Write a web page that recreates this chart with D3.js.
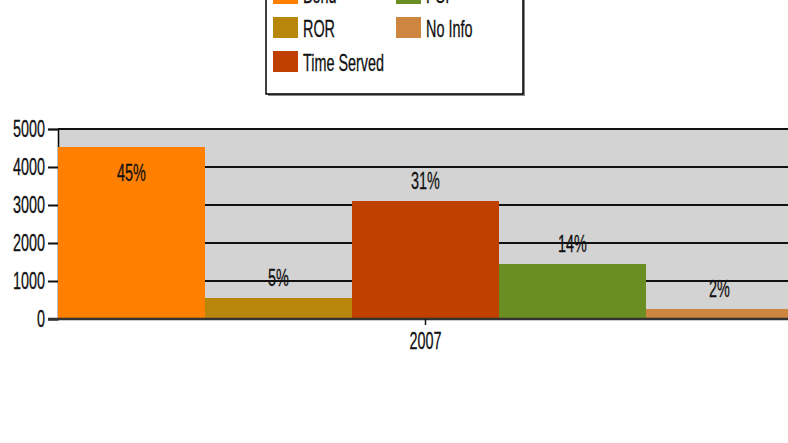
<!DOCTYPE html>
<html>
<head>
<meta charset="utf-8">
<script src="https://cdn.jsdelivr.net/npm/d3@7"></script>
<style>
  html, body { margin: 0; padding: 0; background: #fff; overflow: hidden; }
  svg { display: block; }
  text { font-family: "Liberation Sans", Arial, sans-serif; fill: #111; stroke: #111; stroke-width: 0.3px; }
</style>
</head>
<body>
<div id="chart"></div>
<script>
// data
const years = ["2007"];
const series = ["Bond", "ROR", "Time Served", "PSI", "No Info"];
const counts = [4526, 553, 3105, 1447, 263];
const pctLabels = ["45%", "5%", "31%", "14%", "2%"];
const colors = ["#ff8000", "#b8860b", "#c04000", "#6b8e23", "#cd853f"];
const yTicks = [0, 1000, 2000, 3000, 4000, 5000];

// order of items in the legend box (two columns)
const legendOrder = ["Bond", "PSI", "ROR", "No Info", "Time Served"];

const width = 788, height = 443;
const margin = { top: 129, left: 58, bottom: 124 };
const plotW = 735;
const plotH = height - margin.top - margin.bottom;
const fontSize = "24px";
const sx = 0.6; // the text in the original is very condensed

// squeeze text horizontally around its own anchor
function squeeze(sel) {
    sel.each(function () {
        const t = d3.select(this);
        const x = +t.attr("x") || 0;
        t.attr("transform", `translate(${x},0) scale(${sx},1) translate(${-x},0)`);
    });
}

const svg = d3.select("#chart").append("svg")
    .attr("width", width)
    .attr("height", height);

const x0 = d3.scaleBand().domain(years).range([margin.left, margin.left + plotW]).padding(0);
const x1 = d3.scaleBand().domain(series).range([0, x0.bandwidth()]).padding(0);
const y = d3.scaleLinear().domain([0, 5000]).range([margin.top + plotH, margin.top]);

// plot background
svg.append("rect")
    .attr("x", margin.left)
    .attr("y", margin.top)
    .attr("width", plotW + 20)
    .attr("height", plotH)
    .attr("fill", "#d3d3d3");

// y axis
const yAxis = svg.append("g")
    .attr("transform", `translate(${margin.left},0)`)
    .call(d3.axisLeft(y).tickValues(yTicks).tickSize(10).tickPadding(3).tickFormat(d3.format("d")));
yAxis.select(".domain").attr("stroke", "#000").attr("stroke-width", 1.5);
yAxis.selectAll(".tick line").attr("stroke", "#111").attr("stroke-width", 2);
yAxis.selectAll(".tick text").style("font-size", fontSize).attr("font-family", null).call(squeeze);

// gridlines
svg.append("g")
    .selectAll("line")
    .data(yTicks.filter(d => d > 0))
    .join("line")
    .attr("x1", margin.left)
    .attr("x2", width)
    .attr("y1", d => y(d))
    .attr("y2", d => y(d))
    .attr("stroke", "#111")
    .attr("stroke-width", 2);

// bars
const group = svg.append("g")
    .selectAll("g")
    .data(years)
    .join("g")
    .attr("transform", d => `translate(${x0(d)},0)`);

const rows = series.map((s, i) => ({ s, v: counts[i], c: colors[i], p: pctLabels[i] }));

group.selectAll("rect")
    .data(rows)
    .join("rect")
    .attr("x", d => x1(d.s))
    .attr("y", d => y(d.v))
    .attr("width", x1.bandwidth())
    .attr("height", d => y(0) - y(d.v))
    .attr("fill", d => d.c);

group.selectAll("text.pct")
    .data(rows)
    .join("text")
    .attr("class", "pct")
    .attr("x", d => x1(d.s) + x1.bandwidth() / 2)
    .attr("y", d => {
        const above = y(d.v) - 12;
        return above - 18 < margin.top ? y(d.v) + 34 : above;
    })
    .attr("text-anchor", "middle")
    .style("font-size", fontSize)
    .text(d => d.p)
    .call(squeeze);

// x axis
const xAxis = svg.append("g")
    .attr("transform", `translate(0,${y(0)})`)
    .call(d3.axisBottom(x0).tickSize(6).tickPadding(7).tickSizeOuter(0));
xAxis.select(".domain").attr("stroke", "#333").attr("stroke-width", 2.5)
    .attr("d", `M${margin.left - 10},0H${width}`);
xAxis.selectAll(".tick line").attr("stroke", "#111").attr("stroke-width", 1.5);
xAxis.selectAll(".tick text").style("font-size", fontSize).attr("font-family", null).call(squeeze);

// legend
const legend = svg.append("g");
const lgX = 266, lgY = -40, lgW = 257, lgH = 134;
legend.append("rect")
    .attr("x", lgX + 2).attr("y", lgY + 2)
    .attr("width", lgW).attr("height", lgH)
    .attr("fill", "#888");
legend.append("rect")
    .attr("x", lgX).attr("y", lgY)
    .attr("width", lgW).attr("height", lgH)
    .attr("fill", "#fff")
    .attr("stroke", "#000")
    .attr("stroke-width", 1.5);

const items = legend.selectAll("g.item")
    .data(legendOrder)
    .join("g")
    .attr("class", "item")
    .attr("transform", (d, i) => `translate(${lgX + 7 + (i % 2) * 123},${-17 + Math.floor(i / 2) * 34})`);

items.append("rect")
    .attr("width", 25)
    .attr("height", 21)
    .attr("fill", d => colors[series.indexOf(d)]);

items.append("text")
    .attr("x", 30)
    .attr("y", 20)
    .style("font-size", fontSize)
    .text(d => d)
    .call(squeeze);
</script>
</body>
</html>
